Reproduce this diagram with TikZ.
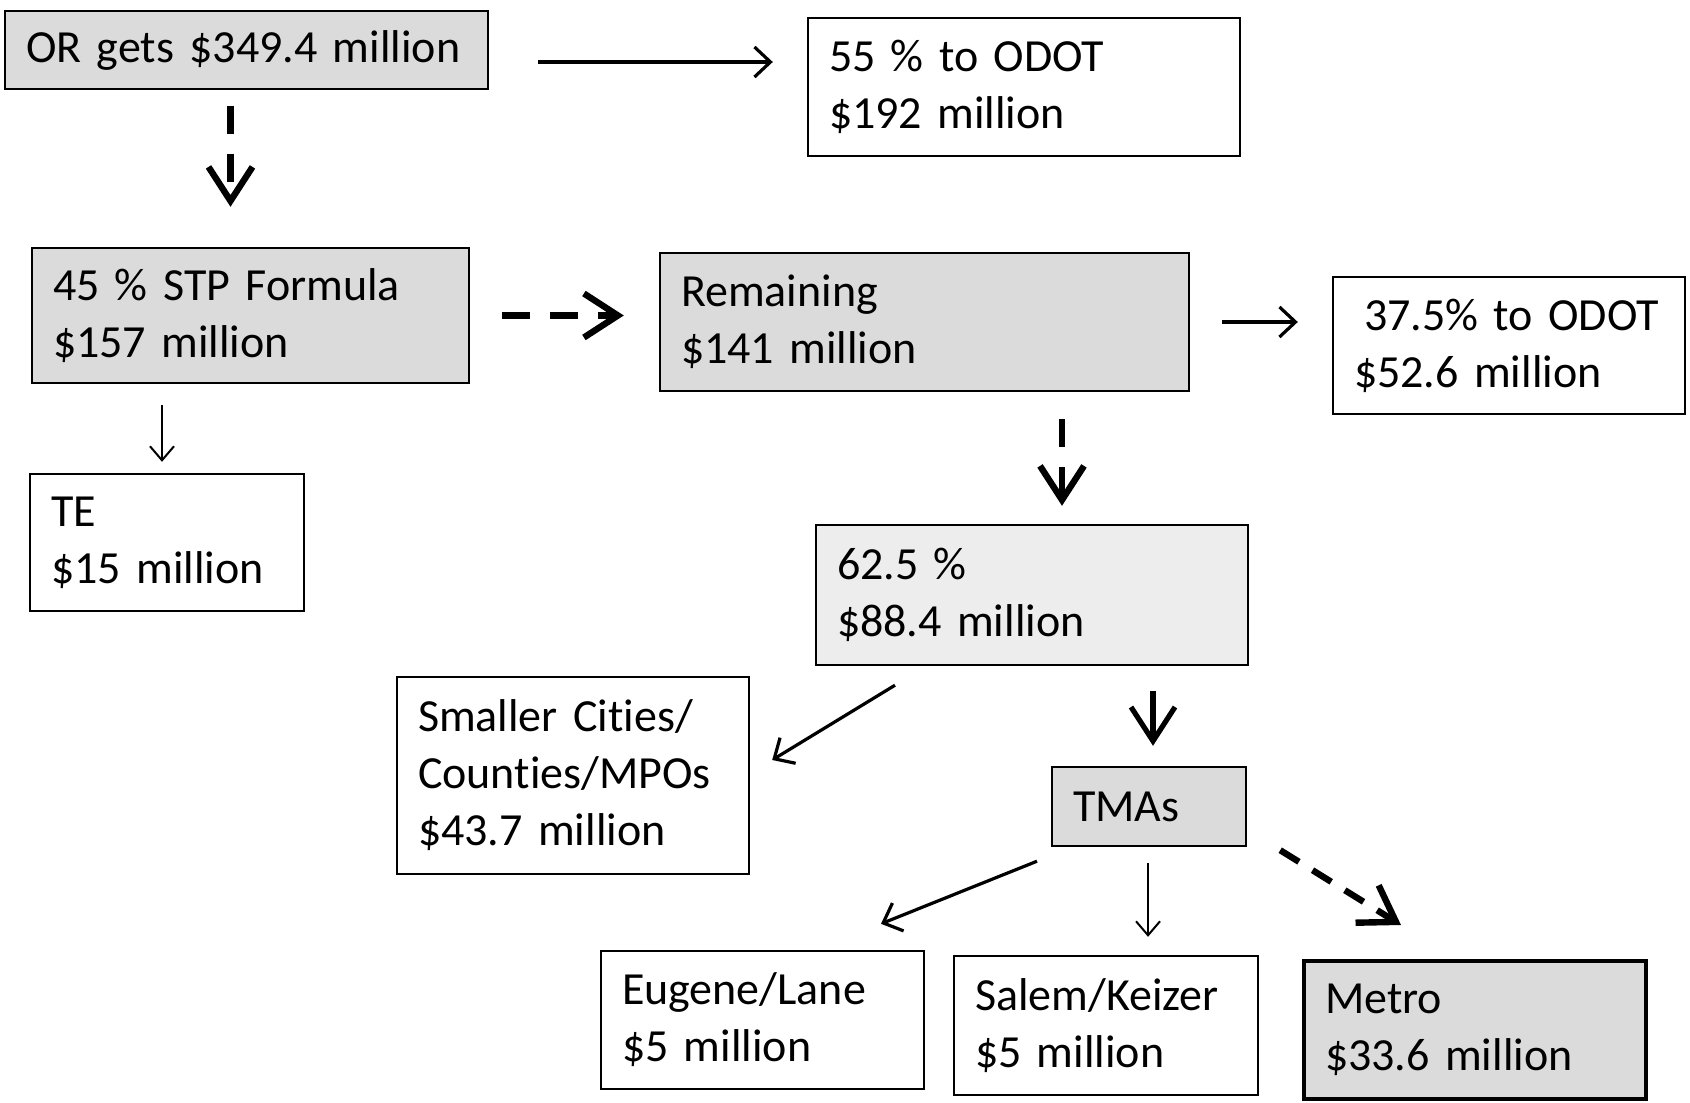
\documentclass[tikz,border=0pt]{standalone}
\usepackage{fontspec}
\setmainfont{Carlito}[Ligatures=NoCommon]
\usetikzlibrary{arrows.meta}

\tikzset{
  box/.style={draw=black, line width=1.2pt, rectangle, align=left,
    inner xsep=10.5pt, inner ysep=0pt, font=\fontsize{23}{28.5}\selectfont},
  greybox/.style={box, fill=black!14},
  lightbox/.style={box, fill=black!7},
  flow/.style={line width=1.6pt, -{Straight Barb[length=8pt,width=15pt]}},
  thinflow/.style={line width=1pt, -{Straight Barb[length=7pt,width=12pt]}},
  bigflow/.style={line width=3.2pt, -{Straight Barb[length=17pt,width=22pt]}},
  dashflow/.style={bigflow, dash pattern=on 14pt off 10pt},
}

\begin{document}
\begin{tikzpicture}[x=0.5pt,y=-0.5pt]
  \useasboundingbox (0,0) rectangle (1690,1102);

  \node[greybox, text width=220.5pt, minimum height=39pt] (or) at (246.5,50) {OR gets \$349.4 million};
  \node[box, text width=195pt, minimum height=69pt] (odot55) at (1024,87) {55 \% to ODOT\\\$192 million};
  \node[greybox, text width=197.5pt, minimum height=67.5pt] (stp) at (250.5,315.5) {45 \% STP Formula\\\$157 million};
  \node[greybox, text width=243.5pt, minimum height=69pt] (rem) at (924.5,322) {Remaining\\\$141 million};
  \node[box, text width=155pt, minimum height=68.5pt] (odot375) at (1509,345.5) {\hspace{5pt}37.5\% to ODOT\\\$52.6 million};
  \node[box, text width=116pt, minimum height=68.5pt] (te) at (167,542.5) {TE\\\$15 million};
  \node[lightbox, text width=195pt, minimum height=70pt] (p625) at (1032,595) {62.5 \%\\\$88.4 million};
  \node[box, text width=155pt, minimum height=98.5pt] (small) at (573,775.5) {Smaller Cit\kern0pt ies/\\Count\kern0pt ies/MPOs\\\$43.7 million};
  \node[greybox, text width=76pt, minimum height=39.5pt] (tmas) at (1149,806.5) {TMAs};
  \node[box, text width=140.5pt, minimum height=69pt] (eugene) at (762.5,1020) {Eugene/Lane\\\$5 million};
  \node[box, text width=131pt, minimum height=69.5pt] (salem) at (1106,1025.5) {Salem/Keizer\\\$5 million};
  \node[greybox, line width=2pt, text width=150pt, minimum height=69pt] (metro) at (1475,1030) {Metro\\\$33.6 million};

  % top row
  \draw[flow, shorten <=24.5pt, shorten >=17pt] ([yshift=-6pt]or.east) -- ([yshift=-6pt]or.east -| odot55.west);
  \draw[dashflow, shorten <=8pt, shorten >=20pt] ([xshift=-8pt]or.south) -- ([xshift=-8pt]or.south |- stp.north);

  % middle row
  \draw[dashflow, shorten <=16pt, shorten >=17.5pt] (stp.east) -- (stp.east -| rem.west);
  \draw[thinflow, shorten <=10.5pt, shorten >=5.5pt] ([xshift=-2.5pt]te.north |- stp.south) -- ([xshift=-2.5pt]te.north);
  \draw[flow, shorten <=16pt, shorten >=17pt] (rem.east) -- (rem.east -| odot375.west);
  \draw[dashflow, shorten <=13.5pt, shorten >=9pt] ([xshift=15pt]p625.north |- rem.south) -- ([xshift=15pt]p625.north);

  % lower part
  \draw[flow] ([shift={(-68.5pt,-9.5pt)}]p625.south) -- ([shift={(11pt,7.75pt)}]small.east);
  \draw[bigflow, line width=2.6pt, shorten <=12.5pt, shorten >=10pt] ([xshift=2pt]tmas.north |- p625.south) -- ([xshift=2pt]tmas.north);
  \draw[flow] ([shift={(-56pt,-7pt)}]tmas.south) -- ([shift={(59.25pt,13pt)}]eugene.north);
  \draw[thinflow, shorten <=8pt, shorten >=9pt] ([xshift=-0.5pt]tmas.south) -- ([xshift=-0.5pt]tmas.south |- salem.north);
  \draw[dashflow, dash pattern=on 11pt off 8pt] ([shift={(16.5pt,-1.5pt)}]tmas.south east) -- ([shift={(-37pt,17pt)}]metro.north);
\end{tikzpicture}
\end{document}
